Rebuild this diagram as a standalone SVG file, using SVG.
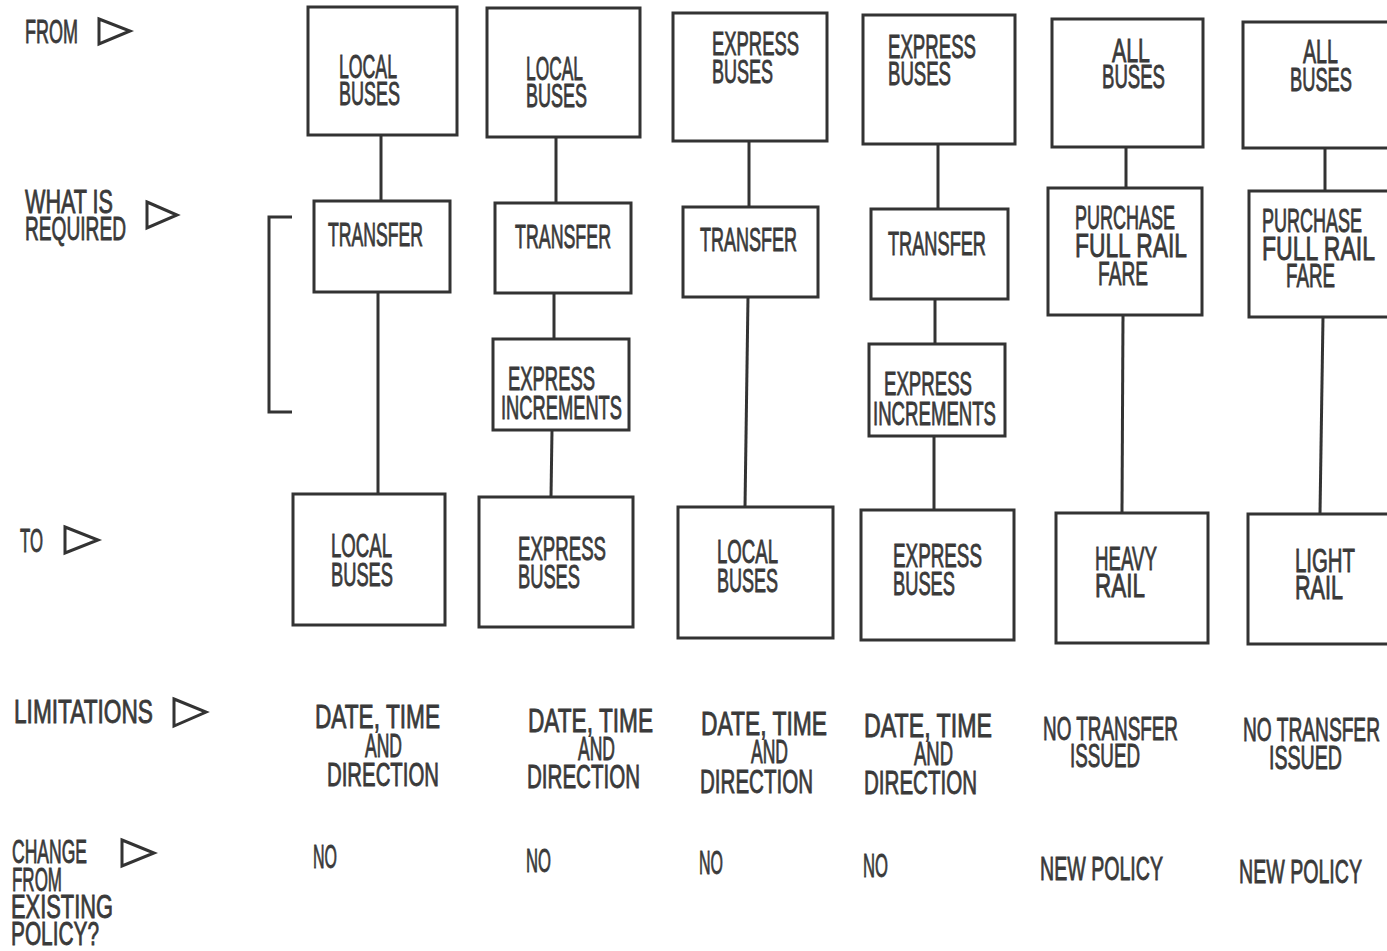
<svg xmlns="http://www.w3.org/2000/svg" width="1387" height="951" viewBox="0 0 1387 951">
<style>
.t{font-family:"Liberation Sans Narrow","Liberation Sans",Arial,sans-serif;font-size:34px;fill:#3a3a3a;stroke:#3a3a3a;stroke-width:0.9}
.b{fill:none;stroke:#333;stroke-width:3}
.c{fill:none;stroke:#333;stroke-width:3}
.tri{fill:none;stroke:#333;stroke-width:3;stroke-linejoin:miter}
</style>
<rect x="0" y="0" width="1387" height="951" fill="#fff"/>
<g id="row-labels">
<text class="t" x="25" y="43" textLength="53" lengthAdjust="spacingAndGlyphs">FROM</text>
<polygon class="tri" points="99,19 130,31 99,44"/>
<text class="t" x="25" y="213" textLength="88" lengthAdjust="spacingAndGlyphs">WHAT IS</text>
<text class="t" x="25" y="240" textLength="101" lengthAdjust="spacingAndGlyphs">REQUIRED</text>
<polygon class="tri" points="147,202 177,215 147,228"/>
<text class="t" x="20" y="552" textLength="23" lengthAdjust="spacingAndGlyphs">TO</text>
<polygon class="tri" points="65,527 98,540 65,553"/>
<text class="t" x="14" y="723" textLength="139" lengthAdjust="spacingAndGlyphs">LIMITATIONS</text>
<polygon class="tri" points="174,699 206,712 174,726"/>
<text class="t" x="12" y="863" textLength="75" lengthAdjust="spacingAndGlyphs">CHANGE</text>
<text class="t" x="12" y="891" textLength="50" lengthAdjust="spacingAndGlyphs">FROM</text>
<text class="t" x="11" y="918" textLength="102" lengthAdjust="spacingAndGlyphs">EXISTING</text>
<text class="t" x="11" y="945" textLength="88" lengthAdjust="spacingAndGlyphs">POLICY?</text>
<polygon class="tri" points="122,840 154,853 122,866"/>
<path class="c" d="M292,217 H269 V412 H292"/>
</g>
<g id="connectors">
<line class="c" x1="381" y1="135" x2="381" y2="201"/>
<line class="c" x1="378" y1="292" x2="378" y2="494"/>
<line class="c" x1="556" y1="137" x2="556" y2="203"/>
<line class="c" x1="554" y1="293" x2="554" y2="339"/>
<line class="c" x1="552" y1="430" x2="551" y2="497"/>
<line class="c" x1="749" y1="141" x2="749" y2="207"/>
<line class="c" x1="748" y1="297" x2="745" y2="507"/>
<line class="c" x1="938" y1="144" x2="938" y2="209"/>
<line class="c" x1="935" y1="299" x2="935" y2="344"/>
<line class="c" x1="934" y1="436" x2="934" y2="510"/>
<line class="c" x1="1126" y1="147" x2="1126" y2="188"/>
<line class="c" x1="1123" y1="315" x2="1122" y2="513"/>
<line class="c" x1="1325" y1="148" x2="1325" y2="191"/>
<line class="c" x1="1323" y1="317" x2="1320" y2="514"/>
</g>
<g id="c1-from"><rect class="b" x="308" y="7" width="149" height="128"/>
<text class="t" x="339" y="78" textLength="58" lengthAdjust="spacingAndGlyphs">LOCAL</text>
<text class="t" x="339" y="105" textLength="61" lengthAdjust="spacingAndGlyphs">BUSES</text></g>
<g id="c1-req"><rect class="b" x="314" y="201" width="136" height="91"/>
<text class="t" x="328" y="246" textLength="95" lengthAdjust="spacingAndGlyphs">TRANSFER</text></g>
<g id="c1-to"><rect class="b" x="293" y="494" width="152" height="131"/>
<text class="t" x="331" y="557" textLength="61" lengthAdjust="spacingAndGlyphs">LOCAL</text>
<text class="t" x="331" y="586" textLength="62" lengthAdjust="spacingAndGlyphs">BUSES</text></g>
<g id="c2-from"><rect class="b" x="487" y="8" width="153" height="129"/>
<text class="t" x="526" y="80" textLength="57" lengthAdjust="spacingAndGlyphs">LOCAL</text>
<text class="t" x="526" y="107" textLength="61" lengthAdjust="spacingAndGlyphs">BUSES</text></g>
<g id="c2-req"><rect class="b" x="495" y="203" width="136" height="90"/>
<text class="t" x="515" y="248" textLength="96" lengthAdjust="spacingAndGlyphs">TRANSFER</text></g>
<g id="c2-inc"><rect class="b" x="493" y="339" width="136" height="91"/>
<text class="t" x="508" y="390" textLength="87" lengthAdjust="spacingAndGlyphs">EXPRESS</text>
<text class="t" x="501" y="419" textLength="121" lengthAdjust="spacingAndGlyphs">INCREMENTS</text></g>
<g id="c2-to"><rect class="b" x="479" y="497" width="154" height="130"/>
<text class="t" x="518" y="560" textLength="88" lengthAdjust="spacingAndGlyphs">EXPRESS</text>
<text class="t" x="518" y="588" textLength="62" lengthAdjust="spacingAndGlyphs">BUSES</text></g>
<g id="c3-from"><rect class="b" x="673" y="13" width="154" height="128"/>
<text class="t" x="712" y="55" textLength="87" lengthAdjust="spacingAndGlyphs">EXPRESS</text>
<text class="t" x="712" y="83" textLength="61" lengthAdjust="spacingAndGlyphs">BUSES</text></g>
<g id="c3-req"><rect class="b" x="683" y="207" width="135" height="90"/>
<text class="t" x="700" y="251" textLength="97" lengthAdjust="spacingAndGlyphs">TRANSFER</text></g>
<g id="c3-to"><rect class="b" x="678" y="507" width="155" height="131"/>
<text class="t" x="717" y="563" textLength="61" lengthAdjust="spacingAndGlyphs">LOCAL</text>
<text class="t" x="717" y="592" textLength="61" lengthAdjust="spacingAndGlyphs">BUSES</text></g>
<g id="c4-from"><rect class="b" x="863" y="15" width="152" height="129"/>
<text class="t" x="888" y="58" textLength="88" lengthAdjust="spacingAndGlyphs">EXPRESS</text>
<text class="t" x="888" y="85" textLength="63" lengthAdjust="spacingAndGlyphs">BUSES</text></g>
<g id="c4-req"><rect class="b" x="871" y="209" width="137" height="90"/>
<text class="t" x="888" y="255" textLength="98" lengthAdjust="spacingAndGlyphs">TRANSFER</text></g>
<g id="c4-inc"><rect class="b" x="869" y="344" width="136" height="92"/>
<text class="t" x="884" y="395" textLength="88" lengthAdjust="spacingAndGlyphs">EXPRESS</text>
<text class="t" x="873" y="425" textLength="123" lengthAdjust="spacingAndGlyphs">INCREMENTS</text></g>
<g id="c4-to"><rect class="b" x="861" y="510" width="153" height="130"/>
<text class="t" x="893" y="567" textLength="89" lengthAdjust="spacingAndGlyphs">EXPRESS</text>
<text class="t" x="893" y="595" textLength="62" lengthAdjust="spacingAndGlyphs">BUSES</text></g>
<g id="c5-from"><rect class="b" x="1052" y="19" width="151" height="128"/>
<text class="t" x="1112" y="62" textLength="38" lengthAdjust="spacingAndGlyphs">ALL</text>
<text class="t" x="1102" y="88" textLength="63" lengthAdjust="spacingAndGlyphs">BUSES</text></g>
<g id="c5-req"><rect class="b" x="1048" y="188" width="154" height="127"/>
<text class="t" x="1075" y="229" textLength="100" lengthAdjust="spacingAndGlyphs">PURCHASE</text>
<text class="t" x="1075" y="257" textLength="112" lengthAdjust="spacingAndGlyphs">FULL RAIL</text>
<text class="t" x="1098" y="285" textLength="50" lengthAdjust="spacingAndGlyphs">FARE</text></g>
<g id="c5-to"><rect class="b" x="1056" y="513" width="152" height="130"/>
<text class="t" x="1095" y="570" textLength="62" lengthAdjust="spacingAndGlyphs">HEAVY</text>
<text class="t" x="1095" y="597" textLength="50" lengthAdjust="spacingAndGlyphs">RAIL</text></g>
<g id="c6-from"><rect class="b" x="1243" y="22" width="160" height="126"/>
<text class="t" x="1303" y="63" textLength="35" lengthAdjust="spacingAndGlyphs">ALL</text>
<text class="t" x="1290" y="91" textLength="62" lengthAdjust="spacingAndGlyphs">BUSES</text></g>
<g id="c6-req"><rect class="b" x="1249" y="191" width="160" height="126"/>
<text class="t" x="1262" y="232" textLength="100" lengthAdjust="spacingAndGlyphs">PURCHASE</text>
<text class="t" x="1262" y="260" textLength="113" lengthAdjust="spacingAndGlyphs">FULL RAIL</text>
<text class="t" x="1286" y="287" textLength="49" lengthAdjust="spacingAndGlyphs">FARE</text></g>
<g id="c6-to"><rect class="b" x="1248" y="514" width="160" height="130"/>
<text class="t" x="1295" y="572" textLength="60" lengthAdjust="spacingAndGlyphs">LIGHT</text>
<text class="t" x="1295" y="599" textLength="48" lengthAdjust="spacingAndGlyphs">RAIL</text></g>
<g id="limitations">
<text class="t" x="315" y="728" textLength="125" lengthAdjust="spacingAndGlyphs">DATE, TIME</text>
<text class="t" x="365" y="757" textLength="37" lengthAdjust="spacingAndGlyphs">AND</text>
<text class="t" x="327" y="786" textLength="112" lengthAdjust="spacingAndGlyphs">DIRECTION</text>
<text class="t" x="528" y="732" textLength="125" lengthAdjust="spacingAndGlyphs">DATE, TIME</text>
<text class="t" x="578" y="760" textLength="37" lengthAdjust="spacingAndGlyphs">AND</text>
<text class="t" x="527" y="788" textLength="113" lengthAdjust="spacingAndGlyphs">DIRECTION</text>
<text class="t" x="701" y="735" textLength="126" lengthAdjust="spacingAndGlyphs">DATE, TIME</text>
<text class="t" x="751" y="763" textLength="37" lengthAdjust="spacingAndGlyphs">AND</text>
<text class="t" x="700" y="793" textLength="113" lengthAdjust="spacingAndGlyphs">DIRECTION</text>
<text class="t" x="864" y="737" textLength="128" lengthAdjust="spacingAndGlyphs">DATE, TIME</text>
<text class="t" x="914" y="765" textLength="39" lengthAdjust="spacingAndGlyphs">AND</text>
<text class="t" x="864" y="794" textLength="113" lengthAdjust="spacingAndGlyphs">DIRECTION</text>
<text class="t" x="1043" y="740" textLength="135" lengthAdjust="spacingAndGlyphs">NO TRANSFER</text>
<text class="t" x="1070" y="767" textLength="70" lengthAdjust="spacingAndGlyphs">ISSUED</text>
<text class="t" x="1243" y="741" textLength="137" lengthAdjust="spacingAndGlyphs">NO TRANSFER</text>
<text class="t" x="1269" y="769" textLength="73" lengthAdjust="spacingAndGlyphs">ISSUED</text>
</g>
<g id="policy-change">
<text class="t" x="313" y="868" textLength="24" lengthAdjust="spacingAndGlyphs">NO</text>
<text class="t" x="526" y="872" textLength="25" lengthAdjust="spacingAndGlyphs">NO</text>
<text class="t" x="699" y="874" textLength="24" lengthAdjust="spacingAndGlyphs">NO</text>
<text class="t" x="863" y="877" textLength="25" lengthAdjust="spacingAndGlyphs">NO</text>
<text class="t" x="1040" y="880" textLength="123" lengthAdjust="spacingAndGlyphs">NEW POLICY</text>
<text class="t" x="1239" y="883" textLength="123" lengthAdjust="spacingAndGlyphs">NEW POLICY</text>
</g>
</svg>
